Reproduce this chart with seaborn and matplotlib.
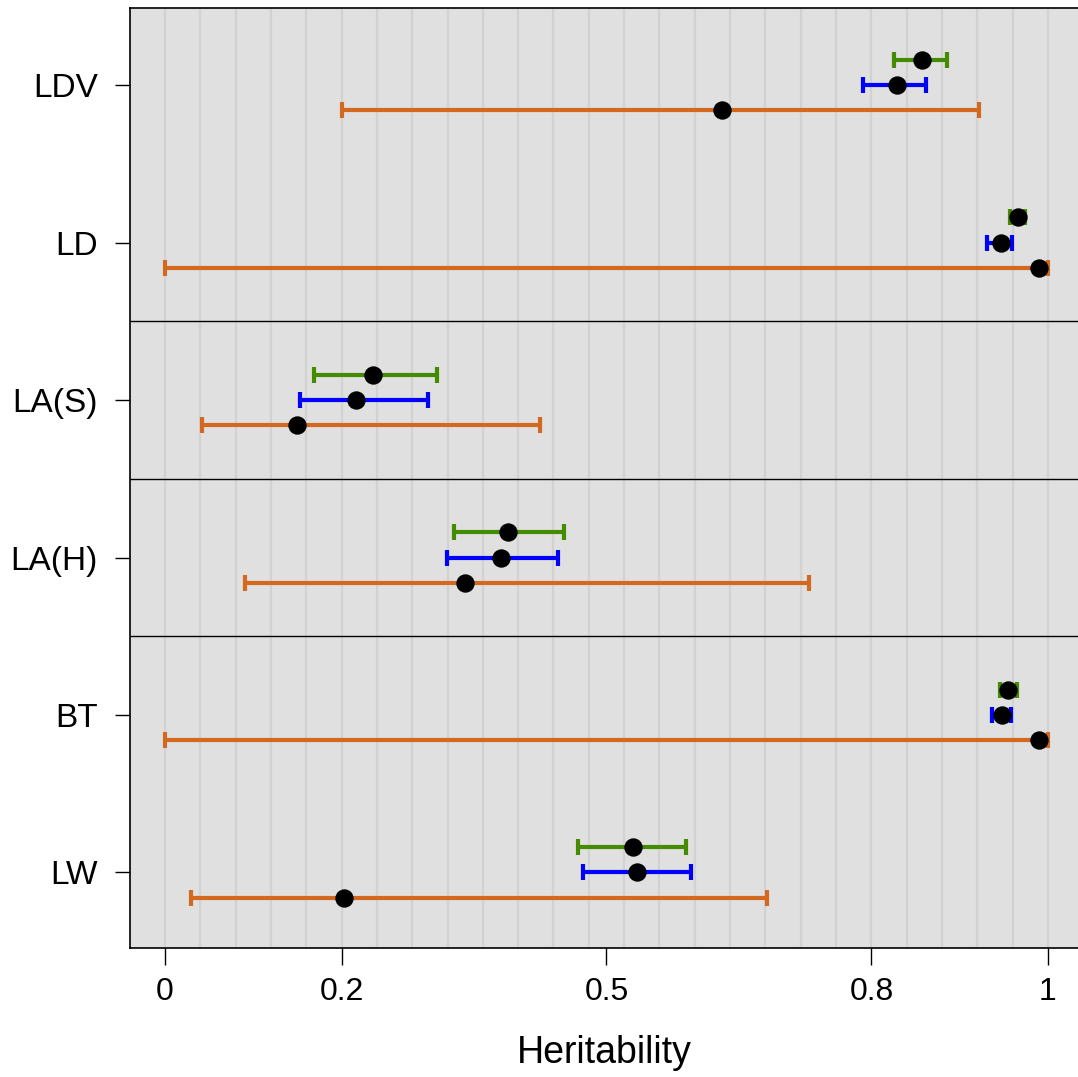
import numpy as np
import pandas as pd
import seaborn as sns
import matplotlib.pyplot as plt

# Heritability estimates per trait, three methods each (green, blue, orange)
traits = ["LDV", "LD", "LA(S)", "LA(H)", "BT", "LW"]
methods = ["green", "blue", "orange"]

green_est = [0.857, 0.966, 0.236, 0.388, 0.955, 0.530]
green_lo = [0.826, 0.957, 0.169, 0.327, 0.946, 0.468]
green_hi = [0.886, 0.974, 0.308, 0.452, 0.965, 0.590]

blue_est = [0.829, 0.947, 0.216, 0.381, 0.948, 0.535]
blue_lo = [0.790, 0.931, 0.153, 0.319, 0.937, 0.473]
blue_hi = [0.862, 0.959, 0.298, 0.445, 0.958, 0.596]

orange_est = [0.631, 0.990, 0.149, 0.340, 0.990, 0.203]
orange_lo = [0.200, 0.000, 0.042, 0.091, 0.000, 0.029]
orange_hi = [0.922, 1.000, 0.425, 0.729, 1.000, 0.682]

x_ticks = [0, 0.2, 0.5, 0.8, 1]
x_ticklabels = ["0", "0.2", "0.5", "0.8", "1"]
separators = [1.5, 2.5, 3.5]

colors = {"green": "#458B00", "blue": "#0000FF", "orange": "#D2691E"}
offsets = {"green": -0.16, "blue": 0.0, "orange": 0.16}

rows = []
for m, est, lo, hi in [("green", green_est, green_lo, green_hi),
                       ("blue", blue_est, blue_lo, blue_hi),
                       ("orange", orange_est, orange_lo, orange_hi)]:
    for i, t in enumerate(traits):
        rows.append({"trait": t, "method": m, "row": i, "est": est[i], "lo": lo[i], "hi": hi[i]})
df = pd.DataFrame(rows)
df["y"] = df["row"] + df["method"].map(offsets)

sns.set_style("white")
plt.rcParams["font.family"] = ["Liberation Sans", "DejaVu Sans"]

fig = plt.figure(figsize=(10.78, 10.77), dpi=100)
ax = fig.add_axes([130 / 1078, 1 - 948 / 1077, 1 - 130 / 1078, (948 - 8) / 1077])
ax.set_facecolor("#E0E0E0")

# vertical grid
for gx in np.arange(0, 1.001, 0.04):
    ax.axvline(gx, color="#D2D2D2", lw=1.6, zorder=0)

for m in methods:
    sub = df[df["method"] == m]
    ax.errorbar(sub["est"], sub["y"],
                xerr=[sub["est"] - sub["lo"], sub["hi"] - sub["est"]],
                fmt="none", ecolor=colors[m], elinewidth=3.0,
                capsize=6, capthick=3.0, zorder=2)

sns.scatterplot(data=df, x="est", y="y", color="black", s=175,
                edgecolor="black", linewidth=0, ax=ax, zorder=3, legend=False)

for s in separators:
    ax.axhline(s, color="black", lw=1.0, zorder=1)

ax.set_xlim(-0.0396, 1.034)
ax.set_ylim(5.48, -0.49)
ax.set_xticks(x_ticks)
ax.set_xticklabels(x_ticklabels)
ax.set_yticks(range(len(traits)))
ax.set_yticklabels(traits)
ax.tick_params(axis="x", length=12, width=1.0, pad=9, labelsize=23, colors="black", direction="out", bottom=True)
ax.tick_params(axis="y", length=11, width=1.0, pad=12, labelsize=24, colors="black", direction="out", left=True)
ax.set_xlabel("Heritability", fontsize=27, labelpad=20, color="black")
ax.set_ylabel("")

for side in ["left", "bottom", "top"]:
    ax.spines[side].set_visible(True)
    ax.spines[side].set_color("black")
    ax.spines[side].set_linewidth(1.2)
ax.spines["right"].set_visible(False)

fig.savefig("out.png", dpi=100)
